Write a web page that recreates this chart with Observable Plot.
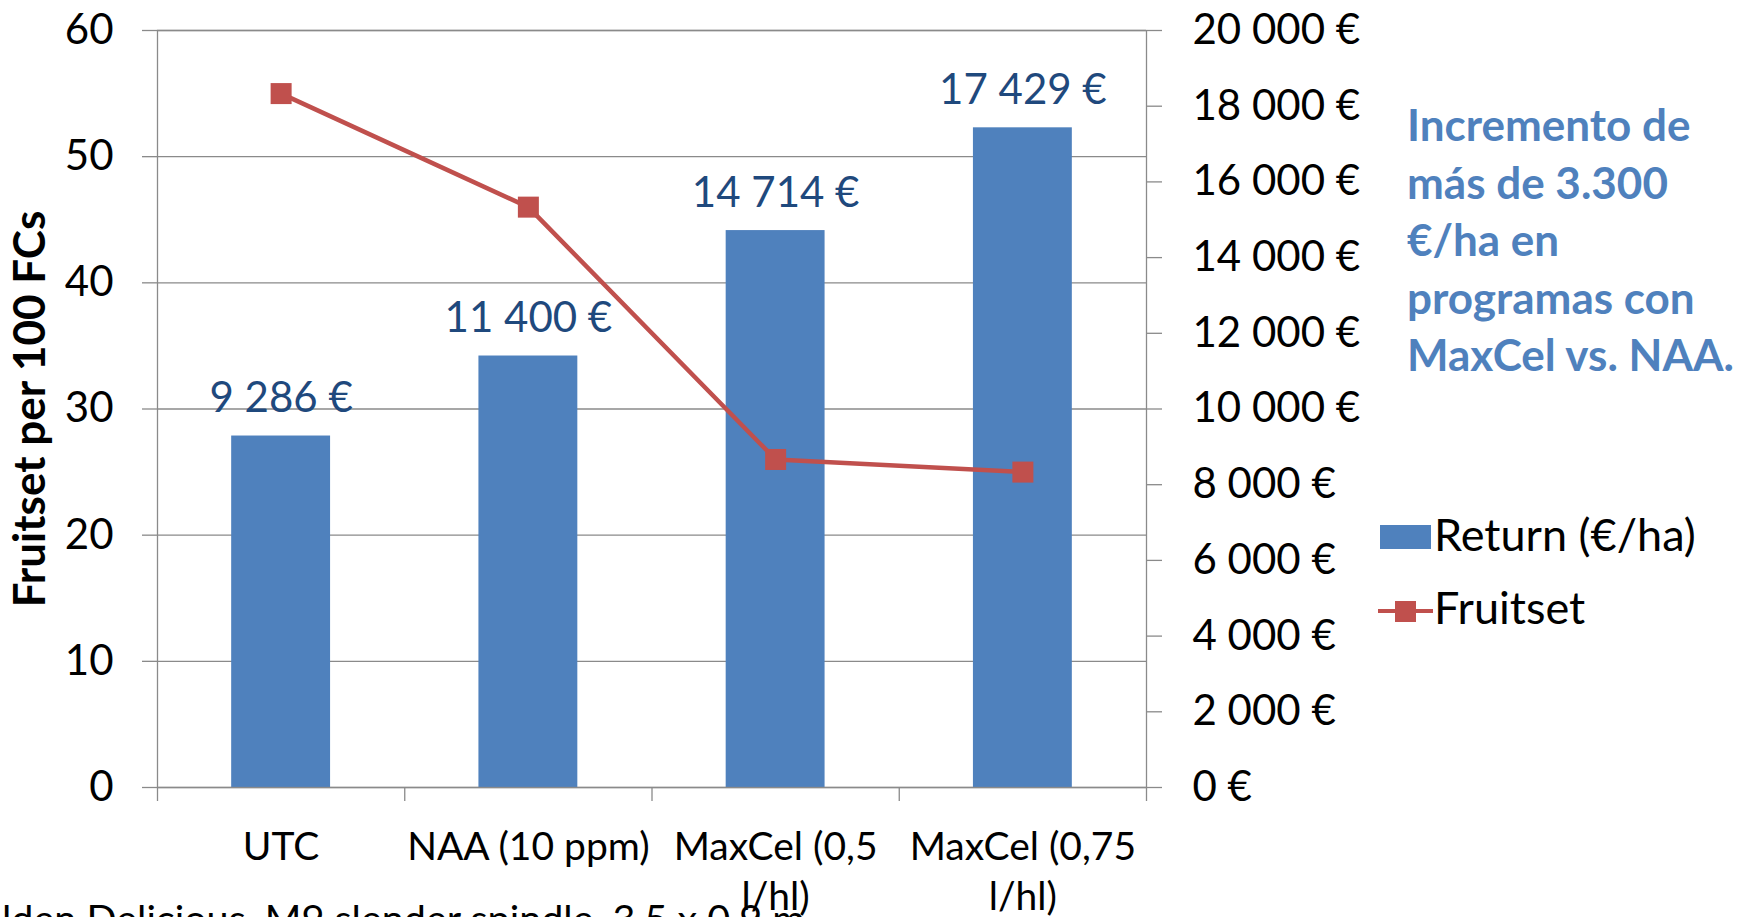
<!DOCTYPE html>
<html><head><meta charset="utf-8">
<script src="https://cdn.jsdelivr.net/npm/d3@7"></script>
<script src="https://cdn.jsdelivr.net/npm/@observablehq/plot@0.6"></script>
<style>
html,body{margin:0;padding:0;background:#fff;}
#wrap{position:relative;width:1744px;height:917px;overflow:hidden;font-family:Lato,sans-serif;color:#000;}
#chart{position:absolute;left:0;top:0;}
.note{position:absolute;left:1407px;top:96px;font-weight:bold;color:#4F81BD;font-size:44px;line-height:57.5px;white-space:nowrap;}
.leg{position:absolute;left:1434px;font-size:45px;line-height:54px;white-space:nowrap;}
.foot{position:absolute;left:2px;top:894px;font-size:39.5px;line-height:47px;white-space:nowrap;}
</style></head>
<body><div id="wrap"><div id="chart"></div>
<div class="note" id="note"></div>
<div style="position:absolute;left:1380px;top:525px;width:51px;height:24px;background:#4F81BD"></div>
<div class="leg" style="top:507px" id="leg1"></div>
<div style="position:absolute;left:1378px;top:609px;width:55px;height:4px;background:#C0504D"></div>
<div style="position:absolute;left:1395px;top:601px;width:21px;height:21px;background:#C0504D"></div>
<div class="leg" style="top:580px" id="leg2"></div>
<div class="foot" id="foot"></div>
</div>
<script>
const categories = ["UTC", "NAA (10 ppm)", "MaxCel (0,5 l/hl)", "MaxCel (0,75 l/hl)"];
const tickLabels = ["UTC", "NAA (10 ppm)", "MaxCel (0,5\nl/hl)", "MaxCel (0,75\nl/hl)"];
const returns = [9286, 11400, 14714, 17429];
const fruitset = [55, 46, 26, 25];
const leftTicks = [0, 10, 20, 30, 40, 50, 60];
const rightTicks = [0, 2000, 4000, 6000, 8000, 10000, 12000, 14000, 16000, 18000, 20000];
const boundaries = [0, 1, 2, 3, 4];
const seriesNames = ["Return (€/ha)", "Fruitset"];
const yTitle = "Fruitset per 100 FCs";
const noteLines = ["Incremento de", "más de 3.300", "€/ha en", "programas con", "MaxCel vs. NAA."];
const footText = "lden Delicious, M9 slender spindle, 3,5 x 0,9 m";

const leftMax = 60, rightMax = 20000;
const factor = leftMax / rightMax;
const grid = "#8a8a8a";
const fmt = v => d3.format(",")(v).replace(/,/g, "\u00a0") + "\u00a0€";
const data = categories.map((c, i) => ({c, i, ret: returns[i], fs: fruitset[i]}));

const plot = Plot.plot({
  width: 1744, height: 917,
  marginLeft: 157, marginRight: 598, marginTop: 30, marginBottom: 130,
  style: {fontFamily: "Lato, sans-serif", background: "transparent", color: "#000"},
  x: {type: "linear", domain: [0, boundaries.length - 1], axis: null},
  y: {domain: [0, leftMax], axis: null},
  marks: [
    Plot.gridY(leftTicks, {stroke: grid, strokeOpacity: 1, strokeWidth: 1.3}),
    Plot.rectY(data, {x1: d => d.i + 0.3, x2: d => d.i + 0.7, y: d => d.ret * factor, fill: "#4F81BD"}),
    Plot.frame({stroke: grid, strokeWidth: 1.3}),
    Plot.axisX(boundaries, {tickSize: 14, tickFormat: () => "", label: null, stroke: grid, strokeWidth: 1.3}),
    Plot.axisY(leftTicks, {anchor: "left", label: null, tickSize: 15, tickPadding: 29, fontSize: 42, stroke: grid, strokeWidth: 1.3, fill: "#000"}),
    Plot.axisY(rightTicks.map(v => v * factor), {anchor: "right", label: null, tickSize: 15, tickPadding: 31, fontSize: 42, stroke: grid, strokeWidth: 1.3, fill: "#000",
      tickFormat: d => fmt(Math.round(d / factor))}),
    Plot.text(data, {x: d => d.i + 0.5, y: d => d.ret * factor, text: d => fmt(d.ret), lineAnchor: "bottom", dy: -24, fontSize: 42, fill: "#1F497D"}),
    Plot.line(data, {x: d => d.i + 0.5, y: "fs", stroke: "#C0504D", strokeWidth: 4.5}),
    Plot.dot(data, {x: d => d.i + 0.5, y: "fs", symbol: "square", r: 11.85, fill: "#C0504D", stroke: "none"}),
    Plot.text(tickLabels, {x: (d, i) => i + 0.5, text: d => d, frameAnchor: "bottom", lineAnchor: "top", dy: 36, fontSize: 39, lineHeight: 1.3, fill: "#000"}),
    Plot.text([yTitle], {text: d => d, frameAnchor: "left", textAnchor: "middle", lineAnchor: "middle", dx: -127, rotate: -90, fontSize: 44, fontWeight: "bold", fill: "#000"})
  ]
});
document.getElementById("chart").appendChild(plot);
document.getElementById("note").innerHTML = noteLines.join("<br>");
document.getElementById("leg1").textContent = seriesNames[0];
document.getElementById("leg2").textContent = seriesNames[1];
document.getElementById("foot").textContent = footText;
</script>
</body></html>
